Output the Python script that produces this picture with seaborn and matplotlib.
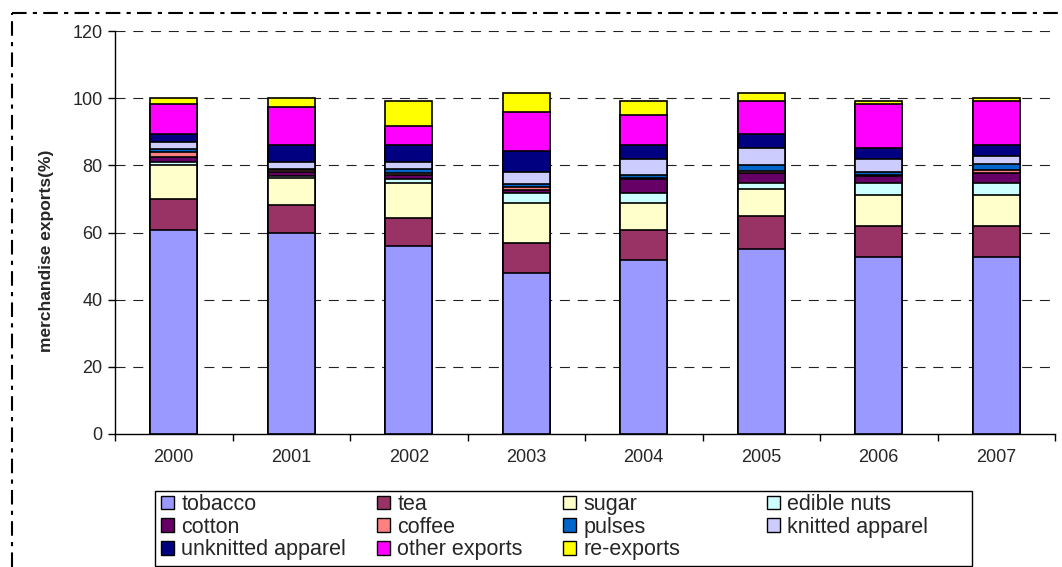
import numpy as np
import pandas as pd
import matplotlib
matplotlib.use("Agg")
import matplotlib.pyplot as plt
from matplotlib.patches import Patch, Rectangle
from matplotlib.lines import Line2D
import seaborn as sns

# Share of merchandise exports by product group (%), 2000-2007
years = ["2000", "2001", "2002", "2003", "2004", "2005", "2006", "2007"]
tobacco = [60.8, 59.8, 56.0, 48.0, 51.8, 55.0, 52.8, 52.8]
tea = [9.1, 8.4, 8.2, 8.8, 8.9, 9.9, 9.1, 9.1]
sugar = [10.2, 7.9, 10.6, 12.1, 8.2, 8.0, 9.3, 9.3]
edible_nuts = [1.0, 0.8, 1.2, 2.8, 3.0, 1.8, 3.4, 3.4]
cotton = [1.5, 1.0, 1.0, 1.0, 4.1, 3.0, 2.2, 3.2]
coffee = [1.5, 0.6, 0.8, 0.8, 0.2, 0.7, 0.2, 0.7]
pulses = [0.9, 0.4, 1.0, 1.0, 0.8, 1.8, 1.0, 1.8]
knitted_apparel = [2.0, 2.2, 2.3, 3.5, 5.0, 5.0, 4.0, 2.6]
unknitted_apparel = [2.3, 5.0, 5.0, 6.4, 4.1, 4.1, 3.2, 3.2]
other_exports = [8.9, 11.2, 5.7, 11.5, 8.9, 9.9, 13.0, 13.0]
re_exports = [1.8, 2.7, 7.3, 5.5, 4.1, 2.2, 0.9, 0.9]

series_names = ["tobacco", "tea", "sugar", "edible nuts", "cotton", "coffee",
                "pulses", "knitted apparel", "unknitted apparel",
                "other exports", "re-exports"]
series_values = [tobacco, tea, sugar, edible_nuts, cotton, coffee, pulses,
                 knitted_apparel, unknitted_apparel, other_exports, re_exports]
colors = ["#9999FF", "#993366", "#FFFFCC", "#CCFFFF", "#660066", "#FF8080",
          "#0066CC", "#CCCCFF", "#000080", "#FF00FF", "#FFFF00"]

df = pd.DataFrame(dict(zip(series_names, series_values)), index=years)
cum = df.cumsum(axis=1)

sns.set_theme(style="white")
plt.rcParams["font.family"] = ["Liberation Sans", "DejaVu Sans"]

W, H = 1062, 567
fig = plt.figure(figsize=(W / 100, H / 100), dpi=100)
ax = fig.add_axes([115 / W, 1 - 434 / H, 940 / W, 403 / H])

# stacked bars: draw cumulative totals from the top layer down
for name, color in reversed(list(zip(series_names, colors))):
    layer = pd.DataFrame({"year": years, "value": cum[name].values})
    sns.barplot(data=layer, x="year", y="value", order=years, color=color,
                saturation=1, width=0.4, edgecolor="black", linewidth=1.2,
                errorbar=None, ax=ax, zorder=3)

ax.set_xlim(-0.5, len(years) - 0.5)
ax.set_ylim(0, 120)
ax.set_yticks(np.arange(0, 121, 20))
ax.set_xlabel("")
ax.set_ylabel("merchandise exports(%)", fontsize=12.5, fontweight="bold")
ax.yaxis.set_label_coords(-0.0645, 0.455)

for y in range(20, 121, 20):
    ax.axhline(y, color="#222222", linewidth=0.8, linestyle=(0, (9, 7)), zorder=1)

for side in ["top", "right"]:
    ax.spines[side].set_visible(False)
for side in ["left", "bottom"]:
    ax.spines[side].set_color("black")
    ax.spines[side].set_linewidth(1.0)

ax.tick_params(axis="y", which="major", left=True, length=5, width=1,
               color="black", labelsize=13, pad=4)
ax.tick_params(axis="x", which="major", bottom=False, length=0, labelsize=13, pad=11)
ax.set_xticks(np.arange(-0.5, len(years), 1.0), minor=True)
ax.tick_params(axis="x", which="minor", bottom=True, length=5, width=1, color="black")

# legend: boxed, four evenly spaced columns read row by row
columns = [[0, 4, 8], [1, 5, 9], [2, 6, 10], [3, 7]]
column_x = [161, 377, 563, 767]
for idx, x in zip(columns, column_x):
    handles = [Patch(facecolor=colors[i], edgecolor="black", linewidth=1.0,
                     label=series_names[i]) for i in idx]
    fig.legend(handles=handles, loc="upper left",
               bbox_to_anchor=(x / W, 1 - 494 / H), fontsize=15.5,
               frameon=False, handlelength=0.6, handleheight=0.6,
               handletextpad=0.35, labelspacing=0.08, borderpad=0,
               borderaxespad=0)
fig.add_artist(Rectangle((155 / W, 1 - 566 / H), 817 / W, 75 / H,
                         transform=fig.transFigure, fill=False,
                         edgecolor="black", linewidth=1.0))

# dash-dot chart frame
frame_style = dict(color="black", linewidth=1.5, linestyle=(0, (7, 3, 2, 3)),
                   transform=fig.transFigure)
fig.add_artist(Line2D([12 / W, 1.0], [1 - 13 / H, 1 - 13 / H], **frame_style))
fig.add_artist(Line2D([12 / W, 12 / W], [0.0, 1 - 13 / H], **frame_style))

fig.savefig("out.png", dpi=100, facecolor="white")
